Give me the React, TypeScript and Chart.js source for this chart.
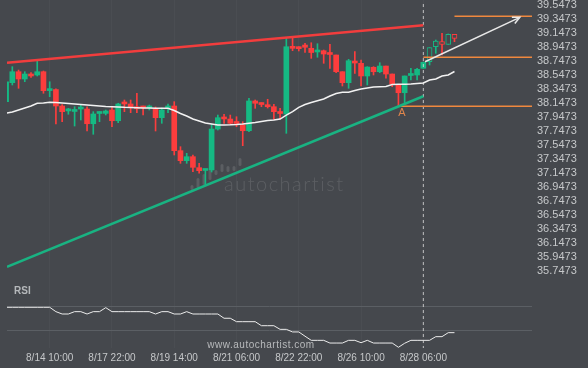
import React, { useEffect, useRef } from 'react';
import { Chart, registerables } from 'chart.js';

Chart.register(...registerables);

const BG = '#45484d';
const UP = '#15b983';
const DOWN = '#fc3d3d';
const ORANGE = '#f0883e';
const FONT = '"Liberation Sans", Arial, sans-serif';

const X_LABELS = ['8/14 10:00', '8/17 22:00', '8/19 14:00', '8/21 06:00', '8/22 22:00', '8/26 10:00', '8/28 06:00'];
const X_LABEL_INDEX = [7, 17, 27, 37, 47, 57, 67];
const PRICE_TICKS = [39.5473, 39.3473, 39.1473, 38.9473, 38.7473, 38.5473, 38.3473, 38.1473, 37.9473, 37.7473,
  37.5473, 37.3473, 37.1473, 36.9473, 36.7473, 36.5473, 36.3473, 36.1473, 35.9473, 35.7473];
const RSI_TICKS = [60, 40];

const OPEN = [38.161, 38.433, 38.590, 38.486, 38.557, 38.543, 38.590, 38.320, 38.335, 38.100,
  38.030, 38.022, 38.057, 38.057, 37.847, 37.993, 37.995, 38.043, 37.890, 38.147,
  38.129, 38.081, 38.090, 38.072, 38.061, 37.933, 38.072, 38.100, 37.462, 37.319,
  37.376, 37.219, 37.179, 37.186, 37.771, 37.924, 37.914, 37.860, 37.829, 37.747,
  38.172, 38.131, 38.114, 38.090, 38.019, 37.986, 38.943, 38.929, 38.971, 38.924,
  38.872, 38.890, 38.850, 38.829, 38.590, 38.433, 38.736, 38.710, 38.529, 38.653,
  38.590, 38.671, 38.557, 38.400, 38.290, 38.536, 38.543, 38.639, 38.733, 38.947,
  39.019, 38.981, 39.124];
const HIGH = [38.457, 38.662, 38.614, 38.590, 38.576, 38.743, 38.600, 38.447, 38.345, 38.119,
  38.067, 38.090, 38.114, 38.090, 38.019, 38.019, 38.043, 38.081, 38.139, 38.186,
  38.186, 38.282, 38.100, 38.114, 38.086, 38.072, 38.129, 38.162, 37.519, 37.424,
  37.400, 37.281, 37.200, 37.843, 37.971, 37.981, 37.971, 37.947, 37.876, 38.210,
  38.186, 38.147, 38.196, 38.124, 38.067, 39.067, 39.067, 38.947, 38.996, 39.004,
  38.990, 38.900, 38.981, 38.829, 38.590, 38.767, 38.876, 38.757, 38.662, 38.662,
  38.719, 38.671, 38.557, 38.400, 38.529, 38.639, 38.639, 38.729, 38.933, 39.043,
  39.138, 39.129, 39.124];
const LOW = [38.150, 38.400, 38.353, 38.447, 38.510, 38.529, 38.282, 38.233, 37.843, 37.876,
  37.982, 37.814, 37.900, 37.743, 37.696, 37.876, 37.972, 37.805, 37.862, 38.019,
  38.005, 38.005, 37.972, 38.043, 37.743, 37.853, 38.004, 37.400, 37.281, 37.281,
  37.162, 37.139, 36.971, 37.157, 37.757, 37.853, 37.843, 37.804, 37.533, 37.733,
  38.067, 38.090, 38.071, 37.910, 37.914, 37.710, 38.890, 38.886, 38.867, 38.781,
  38.796, 38.710, 38.636, 38.576, 38.386, 38.353, 38.567, 38.386, 38.400, 38.543,
  38.576, 38.496, 38.376, 38.100, 38.121, 38.471, 38.471, 38.639, 38.686, 38.853,
  38.829, 38.981, 39.019];
const CLOSE = [38.447, 38.590, 38.486, 38.557, 38.529, 38.590, 38.319, 38.335, 38.100, 38.019,
  38.043, 38.047, 38.072, 37.847, 37.986, 38.007, 38.029, 37.890, 38.129, 38.129,
  38.081, 38.061, 38.072, 38.086, 37.933, 38.043, 38.093, 37.462, 37.319, 37.376,
  37.224, 37.176, 37.193, 37.771, 37.933, 37.915, 37.853, 37.850, 37.747, 38.172,
  38.139, 38.121, 38.090, 38.019, 37.993, 38.947, 38.924, 38.919, 38.939, 38.864,
  38.883, 38.843, 38.836, 38.590, 38.433, 38.747, 38.714, 38.529, 38.657, 38.590,
  38.671, 38.557, 38.414, 38.290, 38.529, 38.550, 38.624, 38.724, 38.933, 39.029,
  38.981, 39.124, 39.067];
const MA = [37.996, 38.014, 38.043, 38.071, 38.100, 38.139, 38.143, 38.153, 38.150, 38.143,
  38.136, 38.129, 38.121, 38.114, 38.107, 38.100, 38.093, 38.090, 38.086, 38.081,
  38.079, 38.076, 38.071, 38.071, 38.069, 38.067, 38.067, 38.036, 37.993, 37.957,
  37.914, 37.886, 37.857, 37.843, 37.829, 37.829, 37.831, 37.836, 37.843, 37.853,
  37.864, 37.879, 37.893, 37.900, 37.914, 37.971, 38.021, 38.081, 38.121, 38.150,
  38.174, 38.200, 38.243, 38.279, 38.296, 38.296, 38.321, 38.343, 38.357, 38.371,
  38.376, 38.379, 38.407, 38.410, 38.411, 38.414, 38.421, 38.429, 38.471, 38.486,
  38.529, 38.543, 38.593];
const RSI = [59.5, 59.5, 59.5, 59.5, 59.5, 59.5, 59.5, 59.5, 55.8, 53.8,
  53.8, 55.8, 55.8, 53.8, 55.8, 55.8, 59.2, 55.8, 55.8, 55.8,
  55.8, 55.8, 55.8, 55.8, 53.8, 55.8, 55.8, 53.8, 53.8, 55.8,
  53.8, 53.8, 53.8, 53.8, 53.8, 50.2, 50.2, 47.3, 47.3, 47.3,
  47.3, 43.9, 43.9, 43.9, 40.8, 40.8, 38.6, 38.6, 35.0, 31.5,
  31.5, 31.5, 29.2, 29.2, 29.2, 31.5, 31.5, 29.5, 31.5, 29.2,
  29.2, 29.2, 29.2, 25.6, 29.0, 31.5, 31.5, 31.5, 31.5, 34.6,
  34.6, 38.0, 38.0];

const FORECAST_FROM = 68;
const NOW_INDEX = 67;
const X_MIN = 0.145;
const X_MAX = 84.45;
const RESISTANCE = [[0.145, 38.719], [67, 39.253]];
const SUPPORT = [[0.145, 35.804], [67, 38.239]];
const LEVEL_TOP = [[72, 39.382], [84.45, 39.382]];
const LEVEL_MID = [[67, 38.796], [84.45, 38.796]];
const LEVEL_LOW = [[63, 38.096], [84.45, 38.096]];
const FORECAST_ARROW = [[67.27, 38.733], [82.5, 39.367]];
const NOW_RANGE = [39.557, 34.6];
const PATTERN_POINT = { index: 63, price: 38.096, label: 'A' };

const LOGO_BARS = [
  [192, 185, 190], [198, 178, 188], [204, 174, 185], [210, 170, 180], [216, 170, 175],
  [222, 164, 172], [228, 166, 172], [234, 166, 171], [240, 158, 166],
];

const pts = (arr: number[][]) => arr.map(([x, y]) => ({ x, y }));

const decor = {
  id: 'decor',
  beforeDatasetsDraw(chart: any) {
    const ctx = chart.ctx;
    ctx.save();
    ctx.fillStyle = 'rgba(255,255,255,0.12)';
    LOGO_BARS.forEach(([x, y1, y2]) => {
      ctx.beginPath();
      if (ctx.roundRect) ctx.roundRect(x - 1.5, y1, 3, y2 - y1, 1.5);
      else ctx.rect(x - 1.5, y1, 3, y2 - y1);
      ctx.fill();
    });
    ctx.font = '300 20px Lato, sans-serif';
    ctx.fillStyle = 'rgba(255,255,255,0.12)';
    (ctx as any).letterSpacing = '1.5px';
    ctx.textAlign = 'left';
    ctx.textBaseline = 'alphabetic';
    ctx.fillText('autochartist', 224, 191);
    ctx.restore();
  },
  afterDatasetsDraw(chart: any) {
    const ctx = chart.ctx;
    const xs = chart.scales.x;
    const ys = chart.scales.y;
    ctx.save();
    const meta = chart.getDatasetMeta(0);
    const p0 = meta.data[0];
    const p1 = meta.data[1];
    const ang = Math.atan2(p1.y - p0.y, p1.x - p0.x);
    ctx.strokeStyle = '#e8e8e8';
    ctx.lineWidth = 1.5;
    ctx.beginPath();
    const L = 8;
    ctx.moveTo(p1.x - L * Math.cos(ang - 0.45), p1.y - L * Math.sin(ang - 0.45));
    ctx.lineTo(p1.x, p1.y);
    ctx.lineTo(p1.x - L * Math.cos(ang + 0.45), p1.y - L * Math.sin(ang + 0.45));
    ctx.stroke();
    ctx.font = '11px ' + FONT;
    ctx.fillStyle = '#e0864c';
    ctx.textAlign = 'center';
    ctx.textBaseline = 'middle';
    ctx.fillText(PATTERN_POINT.label, xs.getPixelForValue(PATTERN_POINT.index) + 3.5, ys.getPixelForValue(PATTERN_POINT.price) + 7);
    ctx.font = 'bold 10px ' + FONT;
    ctx.fillStyle = '#b5b8bb';
    ctx.textAlign = 'left';
    ctx.fillText('RSI', 14, 291);
    ctx.font = '10px ' + FONT;
    (ctx as any).letterSpacing = '0.5px';
    ctx.fillStyle = '#b8babc';
    ctx.textAlign = 'center';
    ctx.fillText('www.autochartist.com', 261, 345);
    ctx.restore();
  },
};

export default function App() {
  const ref = useRef<HTMLCanvasElement>(null);
  useEffect(() => {
    const idx = OPEN.map((_, i) => i);
    const col = (i: number) => (CLOSE[i] >= OPEN[i] ? UP : DOWN);
    const hollow = (i: number) => i >= FORECAST_FROM;
    const lineBase = { pointRadius: 0, tension: 0, fill: false, yAxisID: 'y' };
    const chart = new Chart(ref.current as HTMLCanvasElement, {
      type: 'bar',
      data: {
        datasets: [
          { ...lineBase, type: 'line', label: 'arrow', data: pts(FORECAST_ARROW), borderColor: '#e8e8e8', borderWidth: 1.5, order: 0 } as any,
          { ...lineBase, type: 'line', label: 'resistance', data: pts(RESISTANCE), borderColor: '#f23d3d', borderWidth: 2.5, order: 1 } as any,
          { ...lineBase, type: 'line', label: 'support', data: pts(SUPPORT), borderColor: '#19b382', borderWidth: 2.5, order: 1 } as any,
          { ...lineBase, type: 'line', label: 'l1', data: pts(LEVEL_TOP), borderColor: ORANGE, borderWidth: 1.5, order: 2 } as any,
          { ...lineBase, type: 'line', label: 'l2', data: pts(LEVEL_MID), borderColor: ORANGE, borderWidth: 1.5, order: 2 } as any,
          { ...lineBase, type: 'line', label: 'l3', data: pts(LEVEL_LOW), borderColor: ORANGE, borderWidth: 1.5, order: 2 } as any,
          { ...lineBase, type: 'line', label: 'MA', data: idx.map((i) => ({ x: i, y: MA[i] })), borderColor: '#f2f2f2', borderWidth: 1.5, order: 3 } as any,
          { ...lineBase, type: 'line', label: 'RSI', yAxisID: 'rsi', data: idx.map((i) => ({ x: i, y: RSI[i] })), borderColor: '#ececec', borderWidth: 1, order: 3 } as any,
          { ...lineBase, type: 'line', label: 'now', data: [{ x: NOW_INDEX, y: NOW_RANGE[0] }, { x: NOW_INDEX, y: NOW_RANGE[1] }], borderColor: 'rgba(215,215,215,0.85)', borderWidth: 1, borderDash: [3, 3], order: 4 } as any,
          {
            type: 'bar', label: 'body', yAxisID: 'y',
            data: idx.map((i) => ({ x: i, y: [OPEN[i], CLOSE[i]] })),
            backgroundColor: idx.map((i) => (hollow(i) ? BG : col(i))),
            borderColor: idx.map(col),
            borderWidth: idx.map((i) => (hollow(i) ? 1 : 0)),
            borderSkipped: false, barThickness: 5, minBarLength: 2, grouped: false, order: 5,
          } as any,
          {
            type: 'bar', label: 'wick', yAxisID: 'y',
            data: idx.map((i) => ({ x: i, y: [LOW[i], HIGH[i]] })),
            backgroundColor: idx.map(col), barThickness: 1, grouped: false, order: 6,
          } as any,
        ],
      },
      options: {
        animation: false,
        responsive: false,
        devicePixelRatio: 1,
        layout: { padding: { left: 7, top: 0, right: 0, bottom: 0 } },
        plugins: { legend: { display: false }, tooltip: { enabled: false } },
        scales: {
          x: {
            type: 'linear', position: 'bottom', min: X_MIN, max: X_MAX, offset: false,
            grid: { color: 'rgba(255,255,255,0.03)', drawTicks: false, offset: false },
            border: { display: false },
            afterBuildTicks: (s: any) => { s.ticks = X_LABEL_INDEX.map((v) => ({ value: v })); },
            afterFit: (s: any) => { s.height = 20; s.paddingLeft = 0; s.paddingRight = 0; },
            ticks: {
              autoSkip: false, maxRotation: 0, padding: 4, color: '#c6c8ca',
              font: { size: 10, family: FONT },
              callback: (v: any) => X_LABELS[X_LABEL_INDEX.indexOf(Number(v))] ?? '',
            },
          },
          rsi: {
            type: 'linear', position: 'right', weight: 0, min: 25, max: 319.9,
            grid: { color: '#5b5f64', drawTicks: false },
            border: { display: false },
            afterBuildTicks: (s: any) => { s.ticks = RSI_TICKS.map((v) => ({ value: v })); },
            afterFit: (s: any) => { s.width = 0; s.paddingTop = 0; s.paddingBottom = 0; },
            ticks: { autoSkip: false, padding: 5, color: '#c6c8ca', font: { size: 10, family: FONT } },
          },
          y: {
            type: 'linear', position: 'right', weight: 1, min: 34.643, max: 39.6144,
            grid: { display: false, drawTicks: false },
            border: { display: false },
            afterBuildTicks: (s: any) => { s.ticks = PRICE_TICKS.map((v) => ({ value: v })); },
            afterFit: (s: any) => { s.width = 56; s.paddingTop = 0; s.paddingBottom = 0; },
            ticks: {
              autoSkip: false, padding: 5, color: '#c6c8ca', font: { size: 11, family: FONT },
              callback: (v: any) => Number(v).toFixed(4),
            },
          },
        },
      } as any,
      plugins: [decor],
    });
    return () => chart.destroy();
  }, []);
  return (
    <div style={{ position: 'fixed', left: 0, top: 0, width: 588, height: 368, background: BG }}>
      <canvas ref={ref} width={588} height={368} style={{ display: 'block', width: 588, height: 368 }} />
    </div>
  );
}
